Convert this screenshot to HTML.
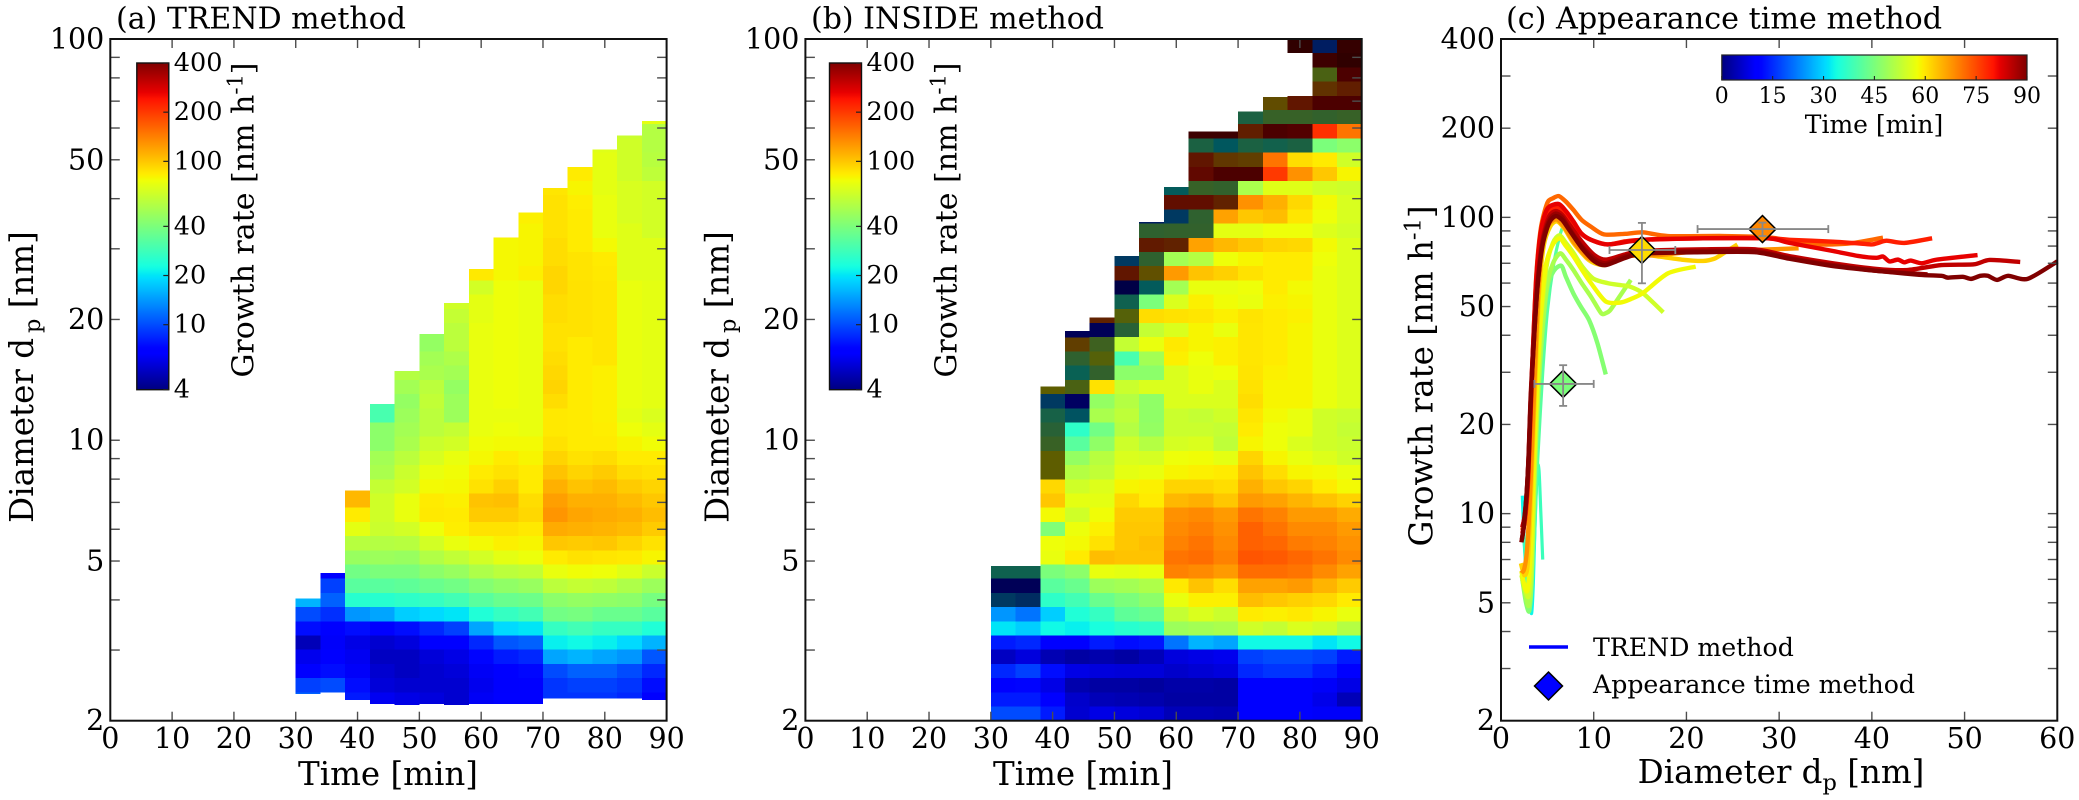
<!DOCTYPE html>
<html lang="en">
<head>
<meta charset="utf-8">
<title>Growth rate methods</title>
<style>
  html, body { margin: 0; padding: 0; background: #fff; }
  svg { display: block; }
  text { font-family: "DejaVu Serif", "Liberation Serif", serif; fill: #000; }
</style>
</head>
<body>
<svg id="figure" width="2079" height="800" viewBox="0 0 2079 800" xmlns="http://www.w3.org/2000/svg">
  <defs id="defs"></defs>
  <rect x="0" y="0" width="2079" height="800" fill="#fff"/>

  <g id="panel-a">
    <g id="cells-a" shape-rendering="crispEdges"></g>
    <text x="116" y="28.5" font-size="30">(a) TREND method</text>
    <text x="388" y="785" font-size="32.5" text-anchor="middle">Time [min]</text>
    <text transform="translate(33 377) rotate(-90)" font-size="32.5" text-anchor="middle">Diameter d<tspan font-size="22.5" dx="5" dy="7">p</tspan><tspan dy="-7"> [nm]</tspan></text>
    <text transform="translate(253.6 220) rotate(-90)" font-size="30" text-anchor="middle">Growth rate [nm h<tspan font-size="21" dy="-11">-1</tspan><tspan dy="11">]</tspan></text>
  </g>

  <g id="panel-b">
    <g id="cells-b" shape-rendering="crispEdges"></g>
    <text x="811" y="28.5" font-size="30">(b) INSIDE method</text>
    <text x="1083" y="785" font-size="32.5" text-anchor="middle">Time [min]</text>
    <text transform="translate(728.5 377) rotate(-90)" font-size="32.5" text-anchor="middle">Diameter d<tspan font-size="22.5" dx="5" dy="7">p</tspan><tspan dy="-7"> [nm]</tspan></text>
    <text transform="translate(956.7 220) rotate(-90)" font-size="30" text-anchor="middle">Growth rate [nm h<tspan font-size="21" dy="-11">-1</tspan><tspan dy="11">]</tspan></text>
  </g>

  <g id="panel-c">
    <g id="lines-c" fill="none" stroke-linejoin="round" stroke-linecap="butt"></g>
    <g id="markers-c"></g>
    <text x="1506" y="28.5" font-size="30.2">(c) Appearance time method</text>
    <text x="1781" y="783" font-size="32.5" text-anchor="middle">Diameter d<tspan font-size="22.5" dy="7">p</tspan><tspan dy="-7"> [nm]</tspan></text>
    <text transform="translate(1432.5 376) rotate(-90)" font-size="32.5" text-anchor="middle">Growth rate [nm h<tspan font-size="22.5" dy="-12">-1</tspan><tspan dy="12">]</tspan></text>
    <text x="1874" y="133" font-size="25" text-anchor="middle">Time [min]</text>
    <line x1="1529" y1="647" x2="1568" y2="647" stroke="#0000ff" stroke-width="3.6"/>
    <text x="1593" y="656" font-size="25.2">TREND method</text>
    <polygon points="1548.5,672 1562.5,686 1548.5,700 1534.5,686" fill="#0000ff" stroke="#000" stroke-width="1.5"/>
    <text x="1593" y="693" font-size="25.2">Appearance time method</text>
  </g>
</svg>

<script>
/* ---------- Panel (a): TREND growth rate [nm/h], one array per 4-min time column, index = diameter bin ---------- */
const binTimes = [30,34,38,42,46,50,54,58,62,66,70,74,78,82,86];
const trendBottom = [2.33,2.35,2.25,2.2,2.19,2.2,2.19,2.2,2.2,2.2,2.27,2.27,2.27,2.27,2.25];
const trendTop = [4.03,4.67,7.49,12.3,14.9,18.4,22,26.7,32,37,42.5,48,53,57.5,62.4];
const trendColumns = [
 [null,11,9.5,7,6.2,5,7.5,10,16],
 [null,12,10,7.5,6.8,6.5,6.8,8.8,11,9.5,7],
 [null,8,7.5,6.5,6.3,6,7.5,14,25,33,38,47,56,72,84,108,108],
 [null,6.3,5.7,5.5,5.2,5.5,7,15,25,33,40,48,55,62,64,64,60,52,50,44,44,30,30],
 [null,6,5.5,5.2,5.2,5.8,7.5,18,26,34,40,47,56,65,74,74,65,62,57,52,50,48,46,50,55],
 [null,5.8,5.5,5.5,5.7,6.8,8.5,19,27,36,44,54,65,76,85,84,78,74,67,62,57,57,59,57,52,50,46,46],
 [null,5.5,5.5,5.7,6,6.8,9.5,20,29,38,47,59,74,83,84,82,79,77,74,65,60,48,48,46,50,53,57,57,60,64],
 [null,6.4,6.2,6.4,7.2,8.5,15,24,33,42,53,65,78,88,98,102,88,84,79,77,74,74,74,74,74,74,74,74,72,72,65,85],
 [null,6.7,6.6,6.9,8,10.5,19,27,36,45,57,72,82,88,98,104,96,88,84,78,76,74,76,76,76,76,76,76,76,76,76,79,79,79,84],
 [null,6.7,6.9,7.3,8.5,11,20,29,37,47,59,75,80,85,92,90,84,84,80,78,74,74,74,74,74,74,74,74,74,74,74,82,80,80,80,82],
 [null,9,9,10,15,21,27,38,44,57,74,84,100,115,128,122,112,102,94,88,85,85,90,94,92,90,88,88,90,90,93,93,90,90,88,88,88,86],
 [null,9,9.5,11,16,22,29,39,46,60,77,88,98,112,118,112,102,94,88,84,84,84,84,84,84,84,84,88,88,88,88,87,87,84,84,84,83,80,84,86],
 [null,9,9.5,11,15,21,27,36,45,58,76,86,100,110,115,112,106,98,90,84,83,82,82,82,82,86,86,86,86,86,86,85,84,78,74,74,74,72,72,72,70],
 [null,8.5,9,10,14,19,27,36,44,53,70,85,94,106,112,106,98,90,84,80,76,72,74,74,74,74,74,74,74,74,74,70,70,70,70,67,67,67,64,64,64,62],
 [null,7,7.5,8.5,10.5,16,24,33,39,48,62,80,88,98,105,100,94,88,84,77,72,68,72,72,72,72,72,72,72,72,72,70,70,70,65,65,65,65,58,56,55,55,72]
];

/* ---------- Panel (b): INSIDE growth rate ---------- */
const insideTop = [4.86,4.86,13.6,18.7,20.2,28.8,35,42.8,58.8,58.8,66,71.6,100,100,100];
const insideColumns = [
 [10,8,7,8.5,5.2,8,20,14,14,6,25],
 [10,8,7.2,9.5,5.8,8.5,18,12,12,6,25],
 [8,7,6,7.5,4.9,7,22,18,26,33,40,74,76,41,78,100,92,80,80,46,36,28,14,80],
 [5.5,5.4,4.8,6,4.6,6.8,21,24,29,36,44,84,78,75,64,72,64,55,46,33,26,19,7,60,23,40,120,6],
 [6,5,4.6,5.8,4.8,8,23,27,36,48,74,105,88,82,77,72,69,59,56,45,38,52,46,88,42,70,50,6,170],
 [5.8,4.9,4.6,5.7,4.6,7.5,25,34,40,50,72,102,100,100,98,92,80,72,68,63,55,58,55,62,44,30,60,36,70,25,5,200,14],
 [5.6,4.8,4.5,5.7,5,7.8,26,36,44,53,74,102,104,100,98,84,82,74,66,55,46,45,45,68,44,50,74,60,90,40,21,95,40,190,40,10],
 [5,4.6,4.7,5.4,5.8,12,48,60,74,85,140,150,140,135,130,108,94,80,76,66,62,62,68,68,68,82,85,68,88,68,50,125,50,170,42,14,220,21],
 [5,4.6,4.7,5.6,6,16,50,68,82,102,135,155,150,142,135,112,94,82,77,68,62,60,68,74,74,76,80,80,86,82,74,102,55,120,42,40,220,45,240,200,30,350],
 [4.9,4.6,4.6,5.8,6.2,15,52,62,82,90,125,140,135,130,125,100,90,84,72,58,60,64,68,68,76,82,82,74,82,77,74,96,76,108,72,120,170,42,300,130,20,350],
 [6.7,6.7,6.9,8.5,9.5,22,64,84,105,120,155,175,165,165,150,125,112,102,94,80,84,86,90,88,87,86,86,86,87,74,76,88,80,100,72,100,130,52,300,120,30,180,30],
 [6.7,6.7,6.7,9,10,22,60,82,100,120,155,170,160,150,140,120,100,90,80,76,76,78,80,80,82,84,84,84,84,82,84,84,84,94,76,105,112,70,200,150,26,300,45,100],
 [6.7,6.7,6.9,9,10,22,68,85,96,125,150,160,145,135,125,110,94,80,74,68,74,74,80,80,80,80,80,80,82,80,78,84,84,92,76,86,92,70,130,90,30,280,45,200,null,null,null,400],
 [6.5,6.1,6.5,8,9.5,20,64,80,92,110,135,150,140,135,125,102,84,78,69,64,64,64,74,74,74,74,74,74,74,74,74,74,76,78,69,76,78,65,100,84,40,210,42,300,140,60,350,10],
 [6.5,5,6,7,8,22,55,74,84,98,120,135,130,125,115,95,78,74,64,62,60,62,69,69,69,69,69,69,69,69,69,69,69,69,65,67,67,63,80,64,44,150,45,300,180,300,400,380]
];
/* Low-confidence (darkened) stretches of the INSIDE map: [column, first bin, last bin] */
const insideLowConfidence = [[0,8,10],[1,8,10],[2,17,23],[3,21,27],[4,24,28],[5,27,32],[6,30,35],[7,33,37],[8,34,41],[9,36,41],[10,38,42],[11,40,43],[12,40,47],[13,42,47],[14,42,47]];

/* ---------- Panel (c): growth-rate curves, [diameter nm, growth rate nm/h] ---------- */
const lineTimes = [33,38,41,46,50,54,58,62,68,72,79,82,85,88,90];
const linePoints = [
 [[2.3,11.5],[2.5,8],[2.9,5.4],[3.3,4.6],[3.5,6],[3.7,10],[4,18]],
 [[2.4,9],[3,5],[3.3,5.2],[3.6,8],[3.9,14],[4.1,14],[4.3,10],[4.5,7]],
 [[2.5,6.5],[3,4.9],[3.3,5.5],[3.6,9],[4,16],[4.5,30],[5,48],[5.7,70],[6.4,88],[6.8,95]],
 [[2.3,6],[2.7,5],[3.05,4.7],[3.3,6],[3.6,12],[3.9,21],[4.4,38],[5,58],[5.7,66],[6.5,68.7],[7,63],[7.8,55.4],[8.6,50],[9.5,45],[10.4,37.6],[11.3,29.5]],
 [[2.3,6],[2.7,5.2],[3,4.9],[3.3,6.2],[3.6,13],[3.9,22],[4.4,40],[5,60],[5.7,71],[6.4,75.6],[7,72],[7.8,66.5],[8.7,60],[9.7,54],[10.8,47.5],[11.3,47.5],[11.8,48.7],[12.9,54.7],[14,61.5]],
 [[2.2,6.2],[2.7,5.4],[3,5.3],[3.3,7],[3.55,13],[3.85,23],[4.3,44],[4.9,68],[5.6,82],[6.3,87],[7,82],[7.8,76],[8.8,68],[10,62],[11.5,60],[13,59],[13.9,58.4],[15.3,55.5],[17.5,47.8]],
 [[2.2,6.4],[2.6,5.6],[2.9,5.6],[3.25,8],[3.5,14],[3.8,24],[4.25,45],[4.8,68],[5.5,80],[6.3,85],[7,80],[7.8,74],[8.8,66],[9.7,60],[11.3,52],[12.9,51.6],[14,53],[15.3,55.5],[18,64.7],[21,68.2]],
 [[2.15,6.8],[2.5,6.2],[2.85,6.6],[3.15,10],[3.4,16],[3.7,28],[4.1,55],[4.6,80],[5.3,93],[6,97],[6.8,92],[7.8,82],[9.2,73],[10.1,70],[11.1,69],[12,71],[13.4,74],[15.3,75],[17.1,73.7],[19.5,72],[21.8,71.3],[23,72.5],[23.7,74.6],[25.5,81]],
 [[2.2,6.3],[2.5,6.5],[2.8,7.5],[3.1,11],[3.35,17],[3.65,30],[4.05,58],[4.55,84],[5.2,95],[6,98.5],[6.8,93],[7.8,83],[9.2,73.7],[10.1,71],[11.1,69.6],[12,71],[13.4,74],[17.1,74.6],[21.8,77.2],[26.5,77.5],[32.1,78.6]],
 [[2.3,8.8],[2.6,9.8],[2.9,13],[3.1,19],[3.4,33],[3.8,63],[4.3,92],[5,112],[5.6,116],[6.25,118],[7,113],[7.8,106],[8.7,98],[9.7,93],[11.1,87.6],[13.4,88],[15.3,89],[18,86.5],[24.1,86.5],[28.8,85.6],[31.1,83.4],[33.9,81],[37.7,81.7],[41.2,85.4]],
 [[2.3,8.6],[2.6,9.6],[2.9,12.5],[3.1,18],[3.4,32],[3.8,60],[4.3,88],[5,104],[6.2,108],[7,102],[7.8,95],[8.7,88],[9.7,84],[11.5,81],[13.4,83],[15.3,84],[21.8,85],[28.8,85],[31.1,84],[35.8,82.8],[38.6,81.7],[40,81],[40.7,82],[41.6,83.4],[43.5,82],[46.5,85]],
 [[2.3,9],[2.6,10],[2.9,13],[3.1,19],[3.4,33],[3.8,62],[4.3,90],[5,107],[6.2,111],[7,105],[7.8,97],[8.7,88],[9.7,84],[11.5,81],[15.3,84],[21.8,85],[28.8,85],[31.1,82],[35.8,77],[38.6,74],[40.5,73],[41.2,73.8],[41.9,71],[42.8,72],[43.5,70.5],[44.2,71.5],[45.4,70],[47,72],[51.4,74.6]],
 [[2.3,9],[2.5,9.6],[2.8,12],[3,16.5],[3.2,25],[3.6,43],[3.95,62],[4.5,85],[5.2,101],[5.9,105],[6.6,102],[7.33,95],[8.7,83],[10.1,74.5],[11.3,72],[13.4,75],[15.3,77],[21.8,78],[27.4,78],[31.1,74],[35.8,70],[40.5,67],[43.8,66.4],[47.5,69],[51,69.4],[52.7,71.8],[56,70.7]],
 [[2.25,8.2],[2.45,9],[2.75,11.5],[3,16],[3.2,24],[3.6,41],[3.97,60],[4.5,83],[5.2,98],[5.9,103],[6.6,100],[7.33,92],[8.7,80],[10.1,72.5],[11.3,70],[13.4,74],[15.3,76],[21.8,77],[27.4,77],[31.1,73],[35.8,69],[40.5,66],[46,64.2]],
 [[2.2,8],[2.45,9],[2.75,11.5],[3,16],[3.2,24],[3.6,41],[3.97,60],[4.5,81],[5.2,96],[5.9,101],[6.6,98],[7.33,91],[8.7,79],[10.1,71],[11.3,69],[13.4,73],[15.3,75.5],[21.8,76.3],[27.4,76.3],[31.1,72.5],[35.8,68.5],[40.5,66],[45.1,64],[47.5,63.5],[48.2,62.6],[49.8,63],[50.7,62],[51.7,63.5],[52.5,63.5],[53.5,61.5],[54.7,63.5],[56.8,62],[60,71]]
];

/* Appearance-time markers */
const markerTime = [45,61,69];
const markerDiameter = [6.7,15.2,28.2];
const markerDiameterLow = [3.6,11.7,21.2];
const markerDiameterHigh = [10,18.8,35.3];
const markerGrowth = [27.4,77.6,91.3];
const markerGrowthLow = [23.1,59.9,86.5];
const markerGrowthHigh = [31.7,95.8,96];

/* Tick values and labels */
const timeTicks = [0,10,20,30,40,50,60,70,80,90];
const diameterTicks = [2,3,4,5,6,7,8,9,10,20,30,40,50,60,70,80,90,100];
const diameterLabels = [2,5,10,20,50,100];
const lineXTicks = [0,10,20,30,40,50,60];
const growthTicks = [3,4,5,6,7,8,9,10,20,30,40,50,60,70,80,90,100,200,300];
const growthLabels = [2,5,10,20,50,100,200,400];
const colorbarTicks = [4,10,20,40,100,200,400];
const timeColorbarTicks = [0,15,30,45,60,75,90];

/* ---------- Layout ---------- */
const AX_TOP = 39, AX_BOTTOM = 720.7, AX_W = 556.3;
const LEFT_A = 110.3, LEFT_B = 805.4, LEFT_C = 1501;
const DIAM_MIN = 2, DIAM_MAX = 100, TIME_MAX = 90, BIN_MINUTES = 4, BINS = 48;
const GR_MIN = 2, GR_MAX = 400, X_MAX = 60;

const NS = 'http://www.w3.org/2000/svg';
function make(tag, attrs, parent) {
  const el = document.createElementNS(NS, tag);
  for (const k in attrs) el.setAttribute(k, attrs[k]);
  parent.appendChild(el);
  return el;
}
function timeX(left, t) { return left + t / TIME_MAX * AX_W; }
function diamY(d) { return AX_BOTTOM - Math.log(d / DIAM_MIN) / Math.log(DIAM_MAX / DIAM_MIN) * (AX_BOTTOM - AX_TOP); }
function binEdge(i) { return DIAM_MIN * Math.pow(DIAM_MAX / DIAM_MIN, i / BINS); }
function lineX(d) { return LEFT_C + d / X_MAX * AX_W; }
function growthY(g) { return AX_BOTTOM - Math.log(g / GR_MIN) / Math.log(GR_MAX / GR_MIN) * (AX_BOTTOM - AX_TOP); }

function clamp01(x) { return Math.max(0, Math.min(1, x)); }
function jet(f) {
  f = clamp01(f);
  let r, g, b;
  r = f < 0.35 ? 0 : f < 0.66 ? (f - 0.35) / 0.31 : f < 0.89 ? 1 : 1 - (f - 0.89) / 0.11 * 0.5;
  g = f < 0.125 ? 0 : f < 0.375 ? (f - 0.125) / 0.25 : f < 0.64 ? 1 : f < 0.91 ? 1 - (f - 0.64) / 0.27 : 0;
  b = f < 0.11 ? 0.5 + f / 0.11 * 0.5 : f < 0.34 ? 1 : f < 0.65 ? 1 - (f - 0.34) / 0.31 : 0;
  return [r, g, b];
}
function rgb(c, k) {
  const s = k === undefined ? 1 : k;
  return 'rgb(' + c.map(v => Math.round(v * s * 255)).join(',') + ')';
}
function growthFraction(v) { return Math.log(v / 4) / Math.log(100); }

/* ---------- Heatmaps ---------- */
function isLowConfidence(col, row) {
  return insideLowConfidence.some(r => r[0] === col && row >= r[1] && row <= r[2]);
}
function drawHeatmap(groupId, left, columns, bottoms, tops, shaded) {
  const group = document.getElementById(groupId);
  columns.forEach((values, col) => {
    const t = binTimes[col];
    const x0 = timeX(left, t), x1 = timeX(left, t + BIN_MINUTES);
    values.forEach((v, row) => {
      if (v === null || v === undefined) return;
      const lo = Math.max(binEdge(row), bottoms ? bottoms[col] : DIAM_MIN);
      const hi = Math.min(binEdge(row + 1), tops[col]);
      if (hi <= lo) return;
      const dark = shaded && isLowConfidence(col, row);
      const cell = make('rect', {
        x: x0.toFixed(2), width: (x1 - x0).toFixed(2),
        y: diamY(hi).toFixed(2), height: (diamY(lo) - diamY(hi)).toFixed(2),
        fill: rgb(jet(growthFraction(v)), dark ? 0.38 : 1)
      }, group);
      
      
    });
  });
}
drawHeatmap('cells-a', LEFT_A, trendColumns, trendBottom, trendTop, false);
drawHeatmap('cells-b', LEFT_B, insideColumns, null, insideTop, true);

/* ---------- Curves (Catmull-Rom through the read points) ---------- */
function smoothPath(xy) {
  let d = 'M' + xy[0][0].toFixed(2) + ' ' + xy[0][1].toFixed(2);
  for (let i = 0; i < xy.length - 1; i++) {
    const p0 = xy[Math.max(0, i - 1)], p1 = xy[i], p2 = xy[i + 1], p3 = xy[Math.min(xy.length - 1, i + 2)];
    const k = 0.13;
    d += 'C' + (p1[0] + (p2[0] - p0[0]) * k).toFixed(2) + ' ' + (p1[1] + (p2[1] - p0[1]) * k).toFixed(2) + ' ' +
         (p2[0] - (p3[0] - p1[0]) * k).toFixed(2) + ' ' + (p2[1] - (p3[1] - p1[1]) * k).toFixed(2) + ' ' +
         p2[0].toFixed(2) + ' ' + p2[1].toFixed(2);
  }
  return d;
}
const lineGroup = document.getElementById('lines-c');
linePoints.forEach((pts, i) => {
  const path = make('path', {
    d: smoothPath(pts.map(p => [lineX(p[0]), growthY(p[1])])),
    stroke: rgb(jet(lineTimes[i] / TIME_MAX)),
    'stroke-width': lineTimes[i] < 42 ? 3.2 : 4.4
  }, lineGroup);
  
  
});

/* ---------- Markers ---------- */
const markerGroup = document.getElementById('markers-c');
markerDiameter.forEach((d, i) => {
  const cx = lineX(d), cy = growthY(markerGrowth[i]), r = 13.5;
  const diamond = make('polygon', {
    points: [[cx, cy - r], [cx + r, cy], [cx, cy + r], [cx - r, cy]].map(p => p[0].toFixed(2) + ',' + p[1].toFixed(2)).join(' '),
    fill: rgb(jet(markerTime[i] / TIME_MAX)), stroke: '#000', 'stroke-width': 1.5
  }, markerGroup);
  
  
  const x0 = lineX(markerDiameterLow[i]), x1 = lineX(markerDiameterHigh[i]);
  const y0 = growthY(markerGrowthHigh[i]), y1 = growthY(markerGrowthLow[i]);
  const segs = [[x0, cy, x1, cy], [cx, y0, cx, y1], [x0, cy - 4, x0, cy + 4], [x1, cy - 4, x1, cy + 4], [cx - 4, y0, cx + 4, y0], [cx - 4, y1, cx + 4, y1]];
  segs.forEach(s => {
    const bar = make('line', { x1: s[0], y1: s[1], x2: s[2], y2: s[3], stroke: '#888', 'stroke-width': 1.8 }, markerGroup);
    
    
  });
});

/* ---------- Axes ---------- */
const TICK = '#4d4d4d';
function drawFrame(left, name) {
  const svg = document.getElementById('figure');
  const frame = make('rect', { x: left, y: AX_TOP, width: AX_W, height: AX_BOTTOM - AX_TOP, fill: 'none', stroke: '#111', 'stroke-width': 2 }, svg);
  
  
}
function drawTicksX(left, ticks, toX, name) {
  const svg = document.getElementById('figure');
  ticks.forEach(t => {
    const x = toX(t);
    [[AX_BOTTOM, AX_BOTTOM - 9], [AX_TOP, AX_TOP + 9]].forEach(e => {
      const tick = make('line', { x1: x, x2: x, y1: e[0], y2: e[1], stroke: TICK, 'stroke-width': 1.4 }, svg);
      
      
    });
    const label = make('text', { x: x, y: 748, 'font-size': 28.5, 'text-anchor': 'middle' }, svg);
    label.textContent = t;
    
    
  });
}
function drawTicksY(left, ticks, labels, toY, name) {
  const svg = document.getElementById('figure');
  ticks.forEach(v => {
    const y = toY(v);
    [[left, left + 9.5], [left + AX_W, left + AX_W - 9.5]].forEach(e => {
      const tick = make('line', { x1: e[0], x2: e[1], y1: y, y2: y, stroke: TICK, 'stroke-width': 1.4 }, svg);
      
      
    });
  });
  labels.forEach(v => {
    const label = make('text', { x: left - 6, y: toY(v) + 9.5, 'font-size': 28.5, 'text-anchor': 'end' }, svg);
    label.textContent = v;
    
    
  });
}
[[LEFT_A, 'trend'], [LEFT_B, 'inside']].forEach(p => {
  drawTicksX(p[0], timeTicks, t => timeX(p[0], t), p[1]);
  drawTicksY(p[0], diameterTicks, diameterLabels, diamY, p[1]);
  drawFrame(p[0], p[1]);
});
drawTicksX(LEFT_C, lineXTicks, lineX, 'appearance');
drawTicksY(LEFT_C, growthTicks, growthLabels, growthY, 'appearance');
drawFrame(LEFT_C, 'appearance');

/* ---------- Colour bars ---------- */
function jetGradient(id, vertical) {
  const defs = document.getElementById('defs');
  const grad = make('linearGradient', { id: id, x1: 0, y1: vertical ? 1 : 0, x2: vertical ? 0 : 1, y2: 0 }, defs);
  for (let i = 0; i <= 100; i++) {
    make('stop', { offset: (i / 100).toFixed(2), 'stop-color': rgb(jet(i / 100)) }, grad);
  }
}
jetGradient('jet-v', true);
jetGradient('jet-h', false);

const CB_TOP = 63, CB_BOTTOM = 389.7, CB_W = 32;
function colorbarY(v) { return CB_BOTTOM - growthFraction(v) * (CB_BOTTOM - CB_TOP); }
function drawVerticalColorbar(left, name) {
  const svg = document.getElementById('figure');
  const bar = make('rect', { x: left, y: CB_TOP, width: CB_W, height: CB_BOTTOM - CB_TOP, fill: 'url(#jet-v)', stroke: '#111', 'stroke-width': 1.4 }, svg);
  
  
  colorbarTicks.forEach(v => {
    const y = colorbarY(v);
    const tick = make('line', { x1: left + CB_W - 5.5, x2: left + CB_W, y1: y, y2: y, stroke: '#222', 'stroke-width': 1.2 }, svg);
    
    
    const label = make('text', { x: left + CB_W + 5, y: y + 8, 'font-size': 25.5 }, svg);
    label.textContent = v;
    
    
  });
}
drawVerticalColorbar(136.8, 'trend');
drawVerticalColorbar(829.5, 'inside');

const TB_LEFT = 1721.8, TB_RIGHT = 2027, TB_TOP = 55, TB_BOTTOM = 80;
function timeBarX(t) { return TB_LEFT + t / TIME_MAX * (TB_RIGHT - TB_LEFT); }
(function () {
  const svg = document.getElementById('figure');
  const bar = make('rect', { x: TB_LEFT, y: TB_TOP, width: TB_RIGHT - TB_LEFT, height: TB_BOTTOM - TB_TOP, fill: 'url(#jet-h)', stroke: '#222', 'stroke-width': 1.2 }, svg);
  
  
  timeColorbarTicks.forEach(t => {
    const x = timeBarX(t);
    const tick = make('line', { x1: x, x2: x, y1: TB_BOTTOM - 4, y2: TB_BOTTOM, stroke: '#222', 'stroke-width': 1.1 }, svg);
    
    
    const label = make('text', { x: x, y: 103, 'font-size': 22, 'text-anchor': 'middle' }, svg);
    label.textContent = t;
    
    
  });
})();
</script>
</body>
</html>
